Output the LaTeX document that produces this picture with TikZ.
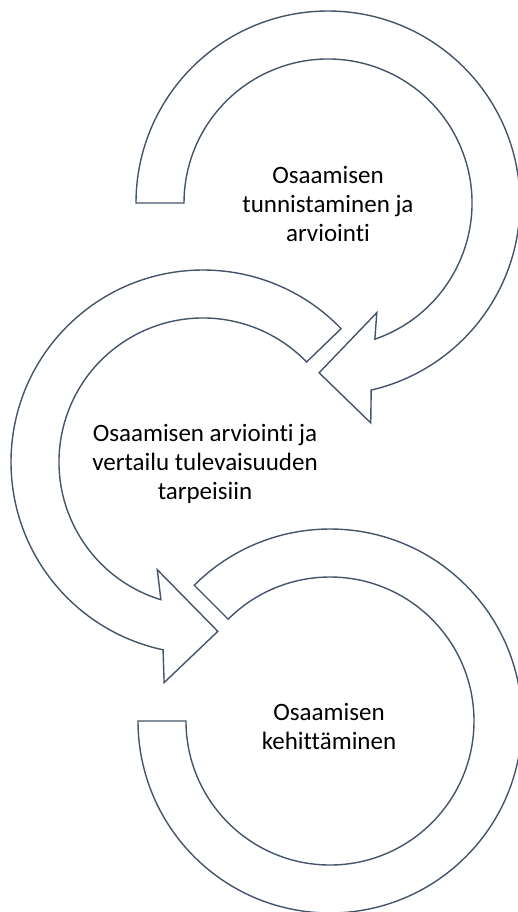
\documentclass[tikz,border=0pt]{standalone}
\usepackage{fontspec}
\setmainfont[Ligatures=NoCommon]{Carlito}
\definecolor{reuna}{HTML}{44546A}
\tikzset{
    nuoli/.style={draw=reuna, line width=0.7pt, fill=white},
    teksti/.style={align=center, text=black, font=\fontsize{12.5}{14.5}\selectfont}
}
\begin{document}
\begin{tikzpicture}[x=0.5pt,y=0.5pt]
    \useasboundingbox (0,0) rectangle (518,-912);

    % Ylin nuoli (myötäpäivään)
    \begin{scope}[shift={(328,-203)}]
        \draw[nuoli] (180:144) -- (180:192)
            arc[start angle=180, end angle=-77, radius=192]
            -- (-79:224) -- (-93:170) -- (-66:120) -- (-71:144)
            arc[start angle=-71, end angle=180, radius=144] -- cycle;
    \end{scope}

    % Keskimmäinen nuoli (vastapäivään)
    \begin{scope}[shift={(203,-462)}]
        \draw[nuoli] (44:144) -- (44:192)
            arc[start angle=44, end angle=258, radius=192]
            -- (260:224) -- (275:170) -- (247:117) -- (253:144)
            arc[start angle=253, end angle=44, radius=144] -- cycle;
    \end{scope}

    % Alin kaari
    \begin{scope}[shift={(330,-721)}]
        \draw[nuoli] (135:144) -- (135:192)
            arc[start angle=135, end angle=-180, radius=192]
            -- (180:144)
            arc[start angle=-180, end angle=135, radius=144] -- cycle;
    \end{scope}

    % Tekstit
    \node[teksti] (tunnistus) at (328,-204) {Osaamisen\\tunnistaminen ja\\arviointi};
    \node[teksti] (vertailu) at (205,-464) {Osaamisen arviointi ja\\vertailu tulevaisuuden\\tarpeisiin};
    \node[teksti] (kehitys) at (329,-726) {Osaamisen\\kehittäminen};

\end{tikzpicture}
\end{document}
